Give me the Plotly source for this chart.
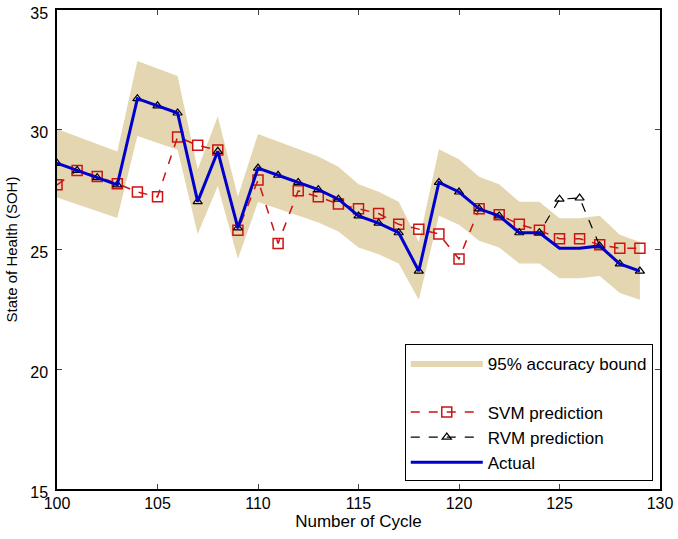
import plotly.graph_objects as go

cycles = [100, 101, 102, 103, 104, 105, 106, 107, 108, 109,
          110, 111, 112, 113, 114, 115, 116, 117, 118, 119,
          120, 121, 122, 123, 124, 125, 126, 127, 128, 129]

actual = [28.6, 28.3, 28.0, 27.7, 31.3, 31.0, 30.7, 27.0, 29.1, 25.9,
          28.4, 28.1, 27.8, 27.5, 27.1, 26.4, 26.1, 25.7, 24.1, 27.8,
          27.4, 26.7, 26.4, 25.7, 25.7, 25.05, 25.05, 25.15, 24.4, 24.1]

rvm = [28.6, 28.3, 28.0, 27.7, 31.3, 31.0, 30.7, 27.0, 29.1, 25.9,
       28.4, 28.1, 27.8, 27.5, 27.1, 26.4, 26.1, 25.7, 24.1, 27.8,
       27.4, 26.7, 26.4, 25.7, 25.7, 27.1, 27.15, 25.15, 24.4, 24.1]

svm = [27.7, 28.3, 28.05, 27.75, 27.4, 27.2, 29.7, 29.35, 29.15, 25.8,
       27.9, 25.25, 27.45, 27.2, 26.9, 26.7, 26.5, 26.05, 25.85, 25.65,
       24.6, 26.7, 26.45, 26.05, 25.8, 25.45, 25.45, 25.2, 25.05, 25.05]

upper = [30.03, 29.72, 29.4, 29.09, 32.87, 32.55, 32.24, 28.35, 30.56, 27.2,
         29.82, 29.51, 29.19, 28.88, 28.46, 27.72, 27.41, 26.99, 25.31, 29.19,
         28.77, 28.04, 27.72, 26.99, 26.99, 26.3, 26.3, 26.41, 25.62, 25.31]

lower = [27.17, 26.89, 26.6, 26.32, 29.74, 29.45, 29.17, 25.65, 27.65, 24.61,
         26.98, 26.7, 26.41, 26.13, 25.75, 25.08, 24.8, 24.42, 22.9, 26.41,
         26.03, 25.37, 25.08, 24.42, 24.42, 23.8, 23.8, 23.89, 23.18, 22.9]

x_ticks = [100, 105, 110, 115, 120, 125, 130]
y_ticks = [15, 20, 25, 30, 35]

band_color = "rgb(228,214,176)"
font_family = "Liberation Sans, Arial, sans-serif"

fig = go.Figure()

fig.add_trace(go.Scatter(
    x=cycles, y=lower, mode="lines", line=dict(width=0, color=band_color),
    showlegend=False, hoverinfo="skip", legendgroup="a"))
fig.add_trace(go.Scatter(
    x=cycles, y=upper, mode="lines", line=dict(width=0, color=band_color),
    fill="tonexty", fillcolor=band_color, name="95% accuracy bound",
    legendgroup="a"))

fig.add_trace(go.Scatter(
    x=cycles, y=svm, mode="lines+markers", name="SVM prediction",
    line=dict(color="rgb(204,20,20)", width=1.5, dash="dash"),
    marker=dict(symbol="square-open", size=10, color="rgb(204,20,20)",
                line=dict(width=1.5)),
    legendgroup="b"))

fig.add_trace(go.Scatter(
    x=cycles, y=rvm, mode="lines+markers", name="RVM prediction",
    line=dict(color="black", width=1.2, dash="dash"),
    marker=dict(symbol="triangle-up-open", size=8, color="black",
                line=dict(width=1.2)),
    legendgroup="b"))

fig.add_trace(go.Scatter(
    x=cycles, y=actual, mode="lines", name="Actual",
    line=dict(color="rgb(0,0,205)", width=3),
    legendgroup="b"))

fig.update_layout(
    width=678, height=539,
    margin=dict(l=57, r=18, t=10, b=50, autoexpand=False),
    plot_bgcolor="white", paper_bgcolor="white",
    font=dict(family=font_family, size=16, color="black"),
    showlegend=True,
    legend=dict(
        x=0.988, y=0.016, xanchor="right", yanchor="bottom",
        bgcolor="white", bordercolor="black", borderwidth=1,
        font=dict(size=17), tracegroupgap=24, itemwidth=72,
        traceorder="grouped"),
    xaxis=dict(
        range=[100, 130], tickvals=x_ticks, ticks="inside", ticklen=5,
        showline=True, linecolor="black", linewidth=1.5, mirror="ticks",
        showgrid=False, zeroline=False, ticklabelstandoff=-1,
        automargin=False,
        title=dict(text="Number of Cycle", font=dict(size=17), standoff=4),
        tickfont=dict(size=16)),
    yaxis=dict(
        range=[15, 35], tickvals=y_ticks, ticks="inside", ticklen=5,
        showline=True, linecolor="black", linewidth=1.5, mirror="ticks",
        showgrid=False, zeroline=False, ticklabelstandoff=4,
        ticklabelshift=3, automargin=False,
        title=dict(text="State of Health (SOH)", font=dict(size=15), standoff=9),
        tickfont=dict(size=16)),
)

fig.write_html("out.html")
